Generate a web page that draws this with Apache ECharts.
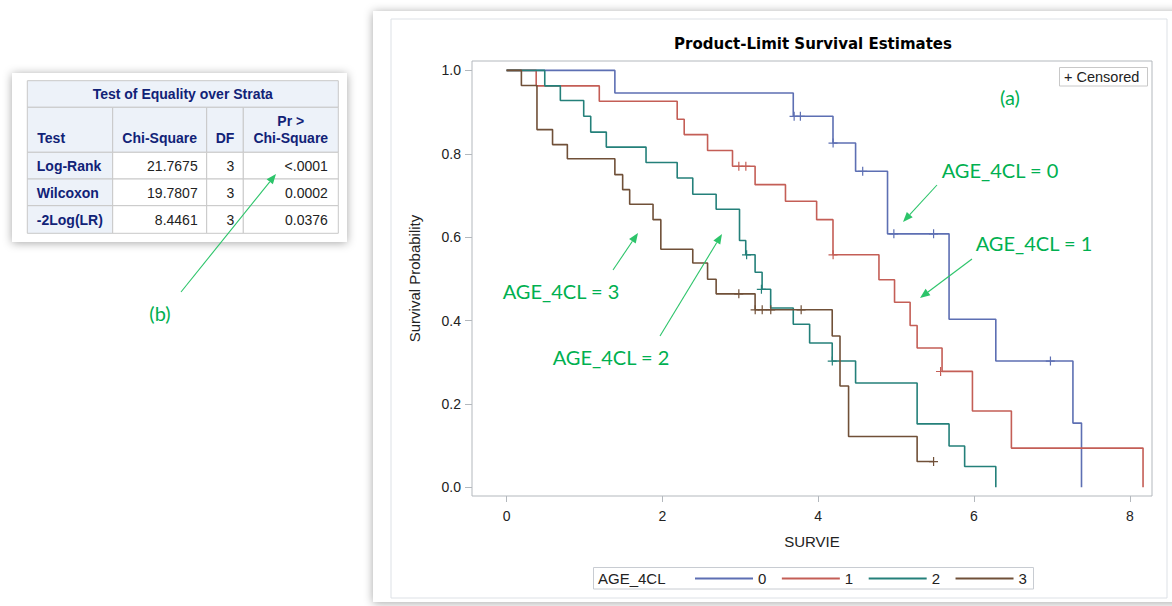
<!DOCTYPE html>
<html><head><meta charset="utf-8">
<script src="https://cdn.jsdelivr.net/npm/echarts@6/dist/echarts.min.js"></script>
<style>html,body{margin:0;padding:0;background:#fff;}#c{width:1172px;height:606px;}</style>
</head><body><div id="c"></div>
<script>
// ---------- data ----------
const groups = ['0', '1', '2', '3'];
const groupColors = ['#5d6fb3', '#c45e56', '#24807a', '#705038'];

const time0 = [0, 1.39, 3.68, 4.19, 4.48, 4.89, 5.68, 6.28, 7.27, 7.38];
const surv0 = [1, 0.946, 0.890, 0.826, 0.758, 0.608, 0.403, 0.303, 0.154, 0];
const censTime0 = [3.69, 3.77, 4.19, 4.57, 4.97, 5.48, 6.98];
const censSurv0 = [0.890, 0.890, 0.826, 0.758, 0.608, 0.608, 0.303];

const time1 = [0, 0.38, 1.19, 2.19, 2.28, 2.58, 2.90, 3.19, 3.58, 3.98, 4.19, 4.78, 4.98, 5.18, 5.27, 5.59, 5.98, 6.48, 8.17];
const surv1 = [1, 0.963, 0.926, 0.883, 0.846, 0.808, 0.770, 0.726, 0.686, 0.642, 0.558, 0.498, 0.444, 0.388, 0.334, 0.278, 0.183, 0.094, 0];
const censTime1 = [2.98, 3.07, 4.19, 5.57];
const censSurv1 = [0.770, 0.770, 0.558, 0.278];

const time2 = [0, 0.49, 0.69, 0.99, 1.08, 1.28, 1.79, 2.19, 2.39, 2.69, 2.99, 3.07, 3.19, 3.28, 3.39, 3.68, 3.89, 4.18, 4.48, 5.27, 5.68, 5.88, 6.28];
const surv2 = [1, 0.963, 0.928, 0.890, 0.852, 0.816, 0.779, 0.742, 0.703, 0.667, 0.592, 0.558, 0.516, 0.475, 0.430, 0.391, 0.346, 0.303, 0.250, 0.152, 0.099, 0.050, 0];
const censTime2 = [3.08, 3.27, 4.18];
const censSurv2 = [0.558, 0.475, 0.303];

const time3 = [0, 0.19, 0.39, 0.59, 0.78, 1.39, 1.49, 1.58, 1.88, 1.98, 2.39, 2.58, 2.69, 3.19, 4.18, 4.28, 4.39, 5.27, 5.48];
const surv3 = [1, 0.964, 0.858, 0.822, 0.788, 0.750, 0.714, 0.679, 0.642, 0.571, 0.538, 0.499, 0.464, 0.426, 0.363, 0.243, 0.122, 0.062, 0.062];
const censTime3 = [2.98, 3.19, 3.28, 3.39, 3.78, 5.48];
const censSurv3 = [0.464, 0.426, 0.426, 0.426, 0.426, 0.062];

const xTicks = [0, 2, 4, 6, 8];
const yTicks = [0, 0.2, 0.4, 0.6, 0.8, 1.0];

const tableTitle = 'Test of Equality over Strata';
const tableHeaders = ['Test', 'Chi-Square', 'DF', 'Pr >|Chi-Square'];
const tests = ['Log-Rank', 'Wilcoxon', '-2Log(LR)'];
const chiSquare = ['21.7675', '19.7807', '8.4461'];
const degFree = ['3', '3', '3'];
const prChiSq = ['<.0001', '0.0002', '0.0376'];

const annotTexts = ['(a)', '(b)', 'AGE_4CL = 0', 'AGE_4CL = 1', 'AGE_4CL = 2', 'AGE_4CL = 3'];

// ---------- build ----------
const times = [time0, time1, time2, time3];
const survs = [surv0, surv1, surv2, surv3];
const cTimes = [censTime0, censTime1, censTime2, censTime3];
const cSurvs = [censSurv0, censSurv1, censSurv2, censSurv3];

const FONT = '"Liberation Sans", Arial, sans-serif';
const GREEN = '#00b050';
const AGREEN = '#2cc46a';
const FRAME = '#b3b8bd';
const HDR = '#edf2f9';
const NAVY = '#112277';
const plusPath = 'path://M4,0h1.2v9h-1.2z M0,4h9v1.2h-9z';

const series = [];
groups.forEach((g, i) => {
  series.push({
    type: 'line', name: g, step: 'end', symbol: 'none', showSymbol: false,
    data: times[i].map((t, k) => [t, survs[i][k]]),
    lineStyle: { width: 1.6, color: groupColors[i] },
    itemStyle: { color: groupColors[i] },
    emphasis: { disabled: true }, z: 3 + i, clip: false, animation: false
  });
  series.push({
    type: 'scatter', name: 'cens' + g, symbol: plusPath, symbolSize: 9,
    data: cTimes[i].map((t, k) => [t, cSurvs[i][k]]),
    itemStyle: { color: groupColors[i], opacity: 1 },
    emphasis: { disabled: true }, z: 3 + i, animation: false
  });
});

const els = [];
// panels
els.push({ type: 'rect', z: -10, shape: { x: 373, y: 11, width: 830, height: 591 },
  style: { fill: '#fff', shadowBlur: 10, shadowColor: 'rgba(0,0,0,0.35)', shadowOffsetY: 1 } });
els.push({ type: 'rect', z: -9, shape: { x: 391, y: 19, width: 776, height: 579 },
  style: { fill: 'none', stroke: '#dde1e6', lineWidth: 1 } });
els.push({ type: 'rect', z: -10, shape: { x: 12, y: 73, width: 335, height: 169 },
  style: { fill: '#fff', shadowBlur: 10, shadowColor: 'rgba(0,0,0,0.35)', shadowOffsetY: 1 } });

// table
const cols = [27.3, 112.7, 206.7, 243.3, 338.3];
const rows = [80.7, 107.3, 152.3, 179, 205.7, 233.3];
function cell(x0, y0, x1, y1, fill) {
  els.push({ type: 'rect', z: 1, shape: { x: x0, y: y0, width: x1 - x0, height: y1 - y0 },
    style: { fill: fill, stroke: '#c8c8c8', lineWidth: 1 } });
}
function txt(s, x, y, align, opts) {
  els.push({ type: 'text', z: 2, style: Object.assign({ text: s, x: x, y: y, textAlign: align,
    textVerticalAlign: 'middle', fontFamily: FONT, fontSize: 14, fill: '#000' }, opts || {}) });
}
cell(cols[0], rows[0], cols[4], rows[1], HDR);
txt(tableTitle, (cols[0] + cols[4]) / 2, (rows[0] + rows[1]) / 2, 'center', { fontWeight: 'bold', fill: NAVY });
for (let c = 0; c < 4; c++) cell(cols[c], rows[1], cols[c + 1], rows[2], HDR);
txt(tableHeaders[0], cols[0] + 10, 138, 'left', { fontWeight: 'bold', fill: NAVY });
txt(tableHeaders[1], (cols[1] + cols[2]) / 2, 138, 'center', { fontWeight: 'bold', fill: NAVY });
txt(tableHeaders[2], (cols[2] + cols[3]) / 2, 138, 'center', { fontWeight: 'bold', fill: NAVY });
const prParts = tableHeaders[3].split('|');
txt(prParts[0], (cols[3] + cols[4]) / 2, 121, 'center', { fontWeight: 'bold', fill: NAVY });
txt(prParts[1], (cols[3] + cols[4]) / 2, 138, 'center', { fontWeight: 'bold', fill: NAVY });
tests.forEach((t, r) => {
  const y0 = rows[r + 2], y1 = rows[r + 3], yc = (y0 + y1) / 2 + 0.5;
  cell(cols[0], y0, cols[1], y1, HDR);
  cell(cols[1], y0, cols[2], y1, '#fff');
  cell(cols[2], y0, cols[3], y1, '#fff');
  cell(cols[3], y0, cols[4], y1, '#fff');
  txt(t, cols[0] + 9.5, yc, 'left', { fontWeight: 'bold', fill: NAVY });
  txt(chiSquare[r], cols[2] - 9, yc, 'right', { fill: '#222' });
  txt(degFree[r], cols[3] - 9, yc, 'right', { fill: '#222' });
  txt(prChiSq[r], cols[4] - 10.5, yc, 'right', { fill: '#222' });
});

// chart title
els.push({ type: 'text', z: 5, style: { text: 'Product-Limit Survival Estimates', x: 813, y: 44,
  textAlign: 'center', textVerticalAlign: 'middle', fontFamily: '"DejaVu Sans", sans-serif',
  fontWeight: 'bold', fontSize: 15, fill: '#000' } });

// censored legend box
els.push({ type: 'rect', z: 5, shape: { x: 1059.5, y: 67.5, width: 88, height: 18.5 },
  style: { fill: '#fff', stroke: '#c8c8c8', lineWidth: 1 } });
els.push({ type: 'text', z: 6, style: { text: '+ Censored', x: 1064, y: 77, textAlign: 'left',
  textVerticalAlign: 'middle', fontFamily: FONT, fontSize: 14.5, fill: '#222' } });

// group legend box (below the legend component)
els.push({ type: 'rect', z: -8, shape: { x: 593.5, y: 567.5, width: 440, height: 21.5 },
  style: { fill: '#fff', stroke: '#c8ccd2', lineWidth: 1 } });
els.push({ type: 'text', z: 6, style: { text: 'AGE_4CL', x: 598, y: 578.5, textAlign: 'left',
  textVerticalAlign: 'middle', fontFamily: FONT, fontSize: 15, fill: '#222' } });

// annotations
const annotPos = [[1010, 97], [160, 313], [1000, 170], [1034, 243], [611, 357], [561, 291]];
annotTexts.forEach((s, i) => {
  els.push({ type: 'text', z: 20, style: { text: s, x: annotPos[i][0], y: annotPos[i][1],
    textAlign: 'center', textVerticalAlign: 'middle', fontFamily: 'Lato, "Noto Sans", sans-serif',
    fontSize: 20, fill: GREEN } });
});
function arrow(x1, y1, x2, y2) {
  const dx = x2 - x1, dy = y2 - y1, L = Math.hypot(dx, dy), ux = dx / L, uy = dy / L;
  const hl = 10, hw = 4, bx = x2 - ux * hl, by = y2 - uy * hl;
  els.push({ type: 'line', z: 20, shape: { x1: x1, y1: y1, x2: bx, y2: by }, style: { stroke: AGREEN, lineWidth: 1.1 } });
  els.push({ type: 'polygon', z: 20, shape: { points: [[x2, y2], [bx - uy * hw, by + ux * hw], [bx + uy * hw, by - ux * hw]] },
    style: { fill: AGREEN } });
}
arrow(181, 292, 276, 174);
arrow(937, 185, 903, 222);
arrow(972, 259, 920, 298);
arrow(613, 270, 638, 233);
arrow(660, 336, 722, 234);

const option = {
  backgroundColor: '#fff',
  animation: false,
  grid: { left: 472, right: 20, top: 61, bottom: 110, show: true, borderColor: FRAME, borderWidth: 1, backgroundColor: 'transparent', z: 1 },
  xAxis: {
    type: 'value', min: -0.444, max: 8.285,
    name: 'SURVIE', nameLocation: 'middle', nameGap: 38,
    nameTextStyle: { fontFamily: FONT, fontSize: 15, color: '#222' },
    axisLine: { show: false, onZero: false },
    axisTick: { show: true, length: 6, customValues: xTicks, lineStyle: { color: FRAME } },
    axisLabel: { customValues: xTicks, margin: 13, fontFamily: FONT, fontSize: 14, color: '#222' },
    splitLine: { show: false }
  },
  yAxis: {
    type: 'value', min: -0.0209, max: 1.0226,
    name: 'Survival Probability', nameLocation: 'middle', nameGap: 50,
    nameTextStyle: { fontFamily: FONT, fontSize: 15, color: '#222' },
    axisLine: { show: false, onZero: false },
    axisTick: { show: true, length: 7, customValues: yTicks, lineStyle: { color: FRAME } },
    axisLabel: { customValues: yTicks, margin: 11, fontFamily: FONT, fontSize: 14, color: '#222',
      formatter: v => v.toFixed(1) },
    splitLine: { show: false }
  },
  legend: {
    data: groups, left: 690, top: 566, icon: 'rect', itemWidth: 58, itemHeight: 2, itemGap: 15.5,
    selectedMode: false, z: 10, textStyle: { fontFamily: FONT, fontSize: 15, color: '#222' }
  },
  graphic: { elements: els },
  series: series
};
const chart = echarts.init(document.getElementById('c'), null, { renderer: 'svg' });
chart.setOption(option);
</script></body></html>
